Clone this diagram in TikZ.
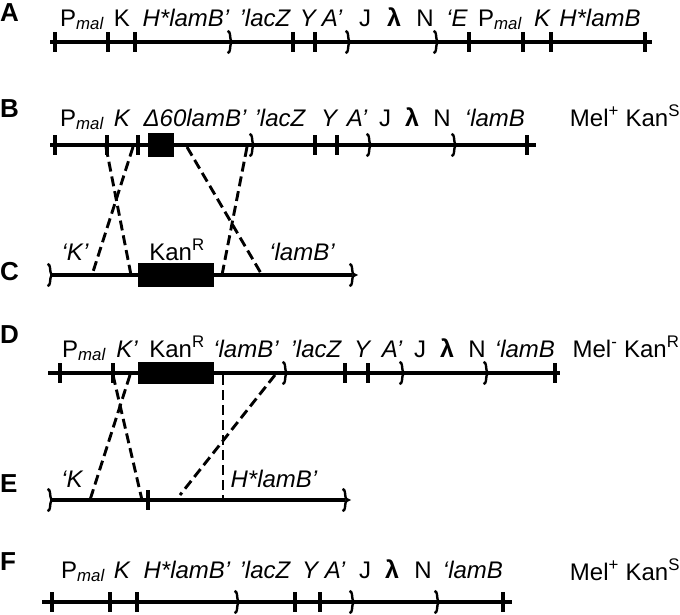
\documentclass[tikz,border=0pt]{standalone}
\usepackage{fontspec}
\setmainfont{Liberation Sans}
\newcommand\tck[2]{\draw[tk] (#1,#2-10) -- (#1,#2+10);}
\newcommand\brkk[2]{\draw[brk] (#1-2.5,#2-11) .. controls (#1+0.5,#2-11) and (#1,#2-5) .. (#1+0.5,#2-3) .. controls (#1+1,#2-1) .. (#1+3.5,#2) .. controls (#1+1,#2+1) .. (#1+0.5,#2+3) .. controls (#1,#2+5) and (#1+0.5,#2+11) .. (#1-2.5,#2+11);}
\newcommand\Pmal{P\textsubscript{\itshape mal}}
\begin{document}
\begin{tikzpicture}[x=1pt,y=-1pt,
  dna/.style={line width=3.3pt},
  tk/.style={line width=3.3pt},
  brk/.style={line width=2.4pt},
  hom/.style={line width=2.9pt,dash pattern=on 10pt off 5pt},
  lbl/.style={anchor=base,inner sep=0pt,font=\fontsize{24}{27}\selectfont},
  it/.style={lbl,font=\fontsize{24}{27}\selectfont\itshape},
  lam/.style={lbl,font=\fontsize{25}{27}\selectfont\bfseries},
  panel/.style={anchor=base west,inner sep=0pt,font=\fontsize{26}{27}\selectfont\bfseries},
  kbox/.style={fill=black,draw=black}]
\useasboundingbox (0,0) rectangle (680,614);
% ---------- A ----------
\node[panel] (pA) at (0,21) {A};
\draw[dna] (50,42) -- (652,42);
\foreach \x in {55,108,135,293,315,469,523,551,645} {\tck{\x}{42}}
\foreach \x in {230,348,436} {\brkk{\x}{42}}
\node[lbl] (a1) at (82,26) {\Pmal};
\node[lbl] (a2) at (122,26) {K};
\node[it] (a3) at (186,26) {H*lamB’};
\node[it] (a4) at (265,26) {’lacZ};
\node[it] (a5) at (308,26) {Y};
\node[it] (a6) at (332,26) {A’};
\node[lbl] (a7) at (365,26) {J};
\node[lam] (a8) at (394,26) {λ};
\node[lbl] (a9) at (425,26) {N};
\node[it] (a10) at (457,26) {‘E};
\node[lbl] (a11) at (500,26) {\Pmal};
\node[it] (a12) at (542,26) {K};
\node[it] (a13) at (600,26) {H*lamB};
% ---------- B ----------
\node[panel] (pB) at (0,117) {B};
\draw[dna] (50,145) -- (536,145);
\foreach \x in {55,107,138,315,337,527} {\tck{\x}{145}}
\foreach \x in {252,369,454} {\brkk{\x}{145}}
\draw[kbox] (148,133) rectangle (173,156);
\node[lbl] (b1) at (82,126) {\Pmal};
\node[it] (b2) at (122,126) {K};
\node[it] (b3) at (195,126) {Δ60lamB’};
\node[it] (b4) at (280,126) {’lacZ};
\node[it] (b5) at (329,126) {Y};
\node[it] (b6) at (357,126) {A’};
\node[lbl] (b7) at (385,126) {J};
\node[lam] (b8) at (412,126) {λ};
\node[lbl] (b9) at (442,126) {N};
\node[it] (b10) at (495,126) {‘lamB};
\node[lbl] (b11) at (625,126) {Mel\textsuperscript{+} Kan\textsuperscript{S}};
% ---------- C ----------
\node[panel] (pC) at (0,280) {C};
\draw[dna] (50,275) -- (352,275);
\brkk{50}{275}\brkk{352}{275}
\draw[kbox] (138,263) rectangle (213,286);
\node[it] (c1) at (75,260) {‘K’};
\node[lbl] (c2) at (177,260) {Kan\textsuperscript{R}};
\node[it] (c3) at (302,260) {‘lamB’};
% crossovers B-C
\coordinate (u1) at (106,147); \coordinate (v1) at (131,275);
\coordinate (u2) at (133,147); \coordinate (v2) at (92,275);
\coordinate (u3) at (187,147); \coordinate (v3) at (262,275);
\coordinate (u4) at (247,147); \coordinate (v4) at (222,275);
\draw[hom] (u1) -- (v1);
\draw[hom] (u2) -- (v2);
\draw[hom] (u3) -- (v3);
\draw[hom] (u4) -- (v4);
% ---------- D ----------
\node[panel] (pD) at (0,343) {D};
\draw[dna] (48,373) -- (560,373);
\foreach \x in {60,113,345,368,555} {\tck{\x}{373}}
\foreach \x in {285,402,486} {\brkk{\x}{373}}
\draw[kbox] (138,362) rectangle (213,383);
\node[lbl] (d1) at (84,357) {\Pmal};
\node[it] (d2) at (127,357) {K’};
\node[lbl] (d3) at (177,357) {Kan\textsuperscript{R}};
\node[it] (d4) at (246,357) {‘lamB’};
\node[it] (d5) at (316,357) {’lacZ};
\node[it] (d6) at (362,357) {Y};
\node[it] (d7) at (392,357) {A’};
\node[lbl] (d8) at (420,357) {J};
\node[lam] (d9) at (447,357) {λ};
\node[lbl] (d10) at (477,357) {N};
\node[it] (d11) at (525,357) {‘lamB};
\node[lbl] (d12) at (626,357) {Mel\textsuperscript{-} Kan\textsuperscript{R}};
% ---------- E ----------
\node[panel] (pE) at (0,492) {E};
\draw[dna] (50,500) -- (345,500);
\brkk{50}{500}\brkk{345}{500}
\tck{148}{500}
\node[it] (e1) at (72,487) {‘K};
\node[it] (e2) at (274,487) {H*lamB’};
% crossovers D-E
\coordinate (s5) at (130,375); \coordinate (t5) at (90,500);
\coordinate (s6) at (113,375); \coordinate (t6) at (142,500);
\coordinate (s7) at (223,375); \coordinate (t7) at (223,500);
\coordinate (s8) at (275,375); \coordinate (t8) at (180,495);
\draw[hom] (s5) -- (t5);
\draw[hom] (s6) -- (t6);
\draw[hom] (s7) -- (t7);
\draw[hom] (s8) -- (t8);
% ---------- F ----------
\node[panel] (pF) at (0,570) {F};
\draw[dna] (42,602) -- (512,602);
\foreach \x in {52,110,137,295,320,503} {\tck{\x}{602}}
\foreach \x in {237,352,437} {\brkk{\x}{602}}
\node[lbl] (f1) at (83,578) {\Pmal};
\node[it] (f2) at (122,578) {K};
\node[it] (f3) at (187,578) {H*lamB’};
\node[it] (f4) at (265,578) {’lacZ};
\node[it] (f5) at (310,578) {Y};
\node[it] (f6) at (335,578) {A’};
\node[lbl] (f7) at (365,578) {J};
\node[lam] (f8) at (392,578) {λ};
\node[lbl] (f9) at (423,578) {N};
\node[it] (f10) at (473,578) {‘lamB};
\node[lbl] (f11) at (625,580) {Mel\textsuperscript{+} Kan\textsuperscript{S}};
\end{tikzpicture}
\end{document}
